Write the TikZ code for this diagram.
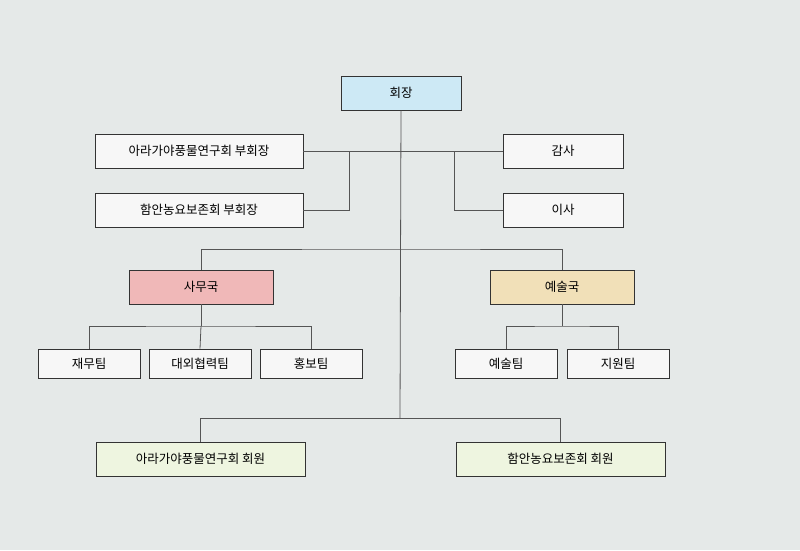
\documentclass[tikz,border=0pt]{standalone}
\usepackage{fontspec}
\setmainfont{Noto Sans CJK KR}
\definecolor{bg}{HTML}{E5E9E8}
\definecolor{ln}{HTML}{555555}
\definecolor{cblue}{HTML}{CDE9F5}
\definecolor{cpink}{HTML}{F0B8B8}
\definecolor{cyel}{HTML}{F1E0B8}
\definecolor{cgrn}{HTML}{EEF5E0}
\definecolor{cwht}{HTML}{F7F7F7}
\begin{document}
\begin{tikzpicture}[x=1pt,y=-1pt,
  bx/.style={draw=black!80,line width=0.6pt,fill=cwht,font=\fontsize{12.5}{14}\selectfont,inner sep=0pt},
  cn/.style={draw=ln,line width=0.8pt}]
\fill[bg] (0,0) rectangle (800,550);
\useasboundingbox (0,0) rectangle (800,550);
\node[bx,fill=cblue,minimum width=120,minimum height=34] (pres) at (401,93) {회장};
\node[bx,minimum width=208,minimum height=34] (vp1) at (199,151) {아라가야풍물연구회 부회장};
\node[bx,minimum width=120,minimum height=34] (aud) at (563,151) {감사};
\node[bx,minimum width=208,minimum height=34] (vp2) at (199,210) {함안농요보존회 부회장};
\node[bx,minimum width=120,minimum height=34] (dir) at (563,210) {이사};
\node[bx,fill=cpink,minimum width=144,minimum height=34] (sec) at (201,287) {사무국};
\node[bx,fill=cyel,minimum width=144,minimum height=34] (art) at (562,287) {예술국};
\node[bx,minimum width=102,minimum height=29] (t1) at (89,363.5) {재무팀};
\node[bx,minimum width=102,minimum height=29] (t2) at (200,363.5) {대외협력팀};
\node[bx,minimum width=102,minimum height=29] (t3) at (311,363.5) {홍보팀};
\node[bx,minimum width=102,minimum height=29] (t4) at (506,363.5) {예술팀};
\node[bx,minimum width=102,minimum height=29] (t5) at (618,363.5) {지원팀};
\node[bx,fill=cgrn,minimum width=209,minimum height=34] (m1) at (200.5,459) {아라가야풍물연구회 회원};
\node[bx,fill=cgrn,minimum width=209,minimum height=34] (m2) at (560.5,459) {함안농요보존회 회원};
\coordinate (j) at (400,418);
\draw[cn] (pres.south) -- (j);
\draw[cn] (vp1.east) -- (aud.west);
\draw[cn] (349,151) |- (vp2.east);
\draw[cn] (454,151) |- (dir.west);
\draw[cn] (sec.north) |- (400,249) -| (art.north);
\draw[cn] (sec.south) -- (201,326);
\draw[cn] (t1.north) |- (201,326) -| (t3.north);
\draw[cn] (201,326) -- (t2.north);
\draw[cn] (art.south) -- (562,326);
\draw[cn] (t4.north) |- (562,326) -| (t5.north);
\draw[cn] (m1.north) |- (j) -| (m2.north);
\end{tikzpicture}
\end{document}
